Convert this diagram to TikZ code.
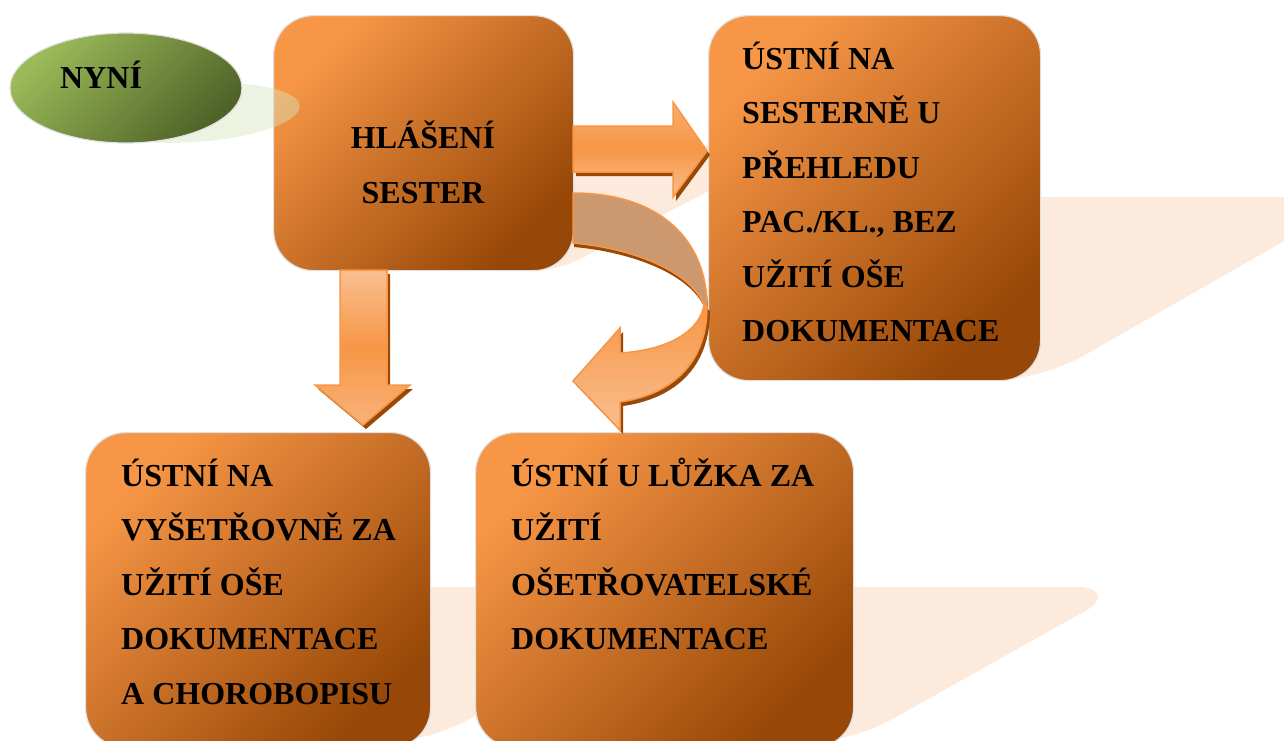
\documentclass[tikz,border=0pt]{standalone}
\usepackage{fontspec}
\setmainfont{Liberation Serif}
\usetikzlibrary{shapes.geometric}
\definecolor{boxA}{HTML}{F79646}
\definecolor{boxB}{HTML}{974707}
\definecolor{elA}{HTML}{9BBB59}
\definecolor{elB}{HTML}{4F6228}
\definecolor{elS}{HTML}{D7E4BD}
\definecolor{arrO}{HTML}{F79646}
\definecolor{arrL}{HTML}{F9BF90}
\definecolor{arrS}{HTML}{984807}
\definecolor{tan}{HTML}{CB9870}
\definecolor{peach}{HTML}{FCEADC}
\begin{document}
\begin{tikzpicture}[x=1pt,y=-1pt,
  box/.style={rounded corners=40pt, draw=white!88!black, line width=1.2pt,
    top color=boxA, bottom color=boxB, shading angle=45,
    anchor=north west, inner sep=0pt},
  lbl/.style={font=\fontsize{32}{38}\selectfont\bfseries, inner sep=0pt, anchor=base west},
  clbl/.style={font=\fontsize{32}{38}\selectfont\bfseries, inner sep=0pt, anchor=base},
  shadowpeach/.style={fill=peach, draw=none},
  arrowbody/.style={draw=arrO, line width=1.5pt, line join=miter},
  arrowshadow/.style={fill=arrS, draw=none}]
\useasboundingbox (0,0) rectangle (1284,740);
\clip (0,0) rectangle (1284,740);

% perspective shadows
\path[shadowpeach] (450,145) -- (760,145) -- (760,164) -- (600,248)
  .. controls (585,257) and (570,266) .. (545,270) -- (450,270) -- cycle;
\path[shadowpeach] (1000,197) -- (1300,197) -- (1300,232) -- (1090,352)
  .. controls (1070,364) and (1040,377) .. (1000,380) -- cycle;
\path[shadowpeach] (700,587) -- (1078,587) .. controls (1102,587) and (1104,601) .. (1085,611)
  -- (905,712) .. controls (880,727) and (855,737) .. (820,742) -- (700,742) -- cycle;
\path[shadowpeach] (277,587) -- (655,587) .. controls (679,587) and (681,601) .. (662,611)
  -- (482,712) .. controls (457,727) and (432,737) .. (397,742) -- (277,742) -- cycle;

% boxes
\node[box, minimum width=300pt, minimum height=255pt] (hl) at (273,15) {};
\node[box, minimum width=332pt, minimum height=365pt] (rt) at (708,15) {};
\node[box, minimum width=345pt, minimum height=315pt] (bl) at (85,432) {};
\node[box, minimum width=378pt, minimum height=315pt] (bm) at (475,432) {};

% NYNI ellipse with its shadow
\fill[elS, opacity=0.45, rotate around={4:(195,113)}] (195,113) ellipse [x radius=105, y radius=29];
\node[ellipse, minimum width=232pt, minimum height=110pt, draw=white!88!black, line width=1.2pt,
  top color=elA, bottom color=elB, shading angle=45] (ny) at (126,88) {};
\node[lbl] (nyt) at (60,88) {NYNÍ};

% texts
\node[clbl] (h1) at (423,148.5) {HLÁŠENÍ};
\node[clbl] (h2) at (423,203) {SESTER};
\foreach \t [count=\i] in {ÚSTNÍ NA, SESTERNĚ U, PŘEHLEDU, {PAC./KL., BEZ}, UŽITÍ OŠE, DOKUMENTACE}
  \node[lbl] (r\i) at (742,{69.3+54.5*(\i-1)}) {\t};
\foreach \t [count=\i] in {ÚSTNÍ NA, VYŠETŘOVNĚ ZA, UŽITÍ OŠE, DOKUMENTACE, A CHOROBOPISU}
  \node[lbl] (l\i) at (121,{486+54.5*(\i-1)}) {\t};
\foreach \t [count=\i] in {ÚSTNÍ U LŮŽKA ZA, UŽITÍ, OŠETŘOVATELSKÉ, DOKUMENTACE}
  \node[lbl] (m\i) at (511,{486+54.5*(\i-1)}) {\t};

% right block arrow
\path[arrowshadow, shift={(3,4)}] (573,126) -- (673,126) -- (673,102) -- (707,151) -- (673,197) -- (673,172) -- (573,172) -- cycle;
\path[arrowbody, top color=arrL!55!arrO, bottom color=arrL, middle color=arrO]
  (573,126) -- (673,126) -- (673,102) -- (707,151) -- (673,197) -- (673,172) -- (573,172) -- cycle;

% down block arrow
\path[arrowshadow, shift={(3,4)}] (340,270) -- (387,270) -- (387,385) -- (410,385) -- (363,425) -- (315,385) -- (340,385) -- cycle;
\path[arrowbody, top color=arrL, bottom color=arrL!70!arrO, middle color=arrO]
  (340,270) -- (387,270) -- (387,385) -- (410,385) -- (363,425) -- (315,385) -- (340,385) -- cycle;

% curved block arrow: back band
\path[arrowshadow, shift={(1,4)}] (573,193) .. controls (660,193) and (707,240) .. (707,307)
  -- (704,305) .. controls (690,270) and (630,248) .. (573,243) -- cycle;
\path[arrowbody, fill=tan] (573,193) .. controls (660,193) and (707,240) .. (707,307)
  -- (704,305) .. controls (690,270) and (630,248) .. (573,243) -- cycle;
% curved block arrow: front part with head
\path[arrowshadow, shift={(3,4)}] (704,305) .. controls (700,330) and (670,350) .. (620,353)
  -- (620,328) -- (573,381) -- (620,430) -- (620,402)
  .. controls (670,395) and (707,365) .. (707,307) -- cycle;
\path[arrowbody, top color=arrO, bottom color=arrL] (704,305) .. controls (700,330) and (670,350) .. (620,353)
  -- (620,328) -- (573,381) -- (620,430) -- (620,402)
  .. controls (670,395) and (707,365) .. (707,307) -- cycle;
\end{tikzpicture}
\end{document}
